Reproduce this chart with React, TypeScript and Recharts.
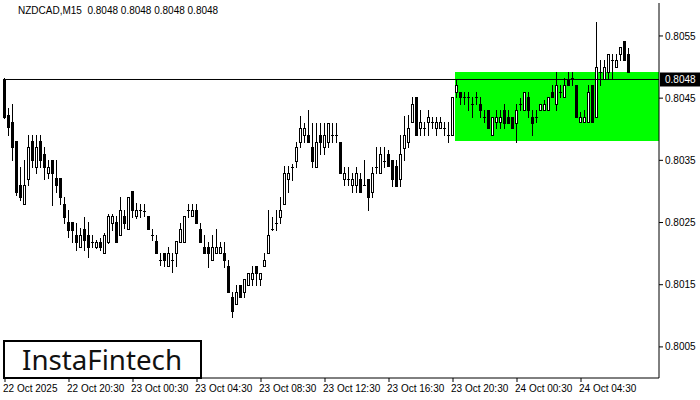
import React from 'react';
import {
  ComposedChart, Bar, XAxis, YAxis, ReferenceArea, ReferenceLine
} from 'recharts';

// NZDCAD M15, first bar 22 Oct 16:30
const opens = [
  0.80479, 0.80423, 0.80412, 0.80381, 0.80310, 0.80280, 0.80320, 0.80381, 0.80339, 0.80381,
  0.80360, 0.80330, 0.80351, 0.80322, 0.80322, 0.80280, 0.80251, 0.80251, 0.80230, 0.80211,
  0.80240, 0.80230, 0.80219, 0.80211, 0.80219, 0.80201, 0.80219, 0.80249, 0.80251, 0.80230,
  0.80261, 0.80240, 0.80301, 0.80261, 0.80270, 0.80269, 0.80261, 0.80230, 0.80220, 0.80190,
  0.80201, 0.80180, 0.80190, 0.80201, 0.80219, 0.80219, 0.80270, 0.80261, 0.80270, 0.80240,
  0.80211, 0.80211, 0.80190, 0.80201, 0.80201, 0.80201, 0.80180, 0.80130, 0.80119, 0.80150,
  0.80138, 0.80150, 0.80159, 0.80180, 0.80159, 0.80180, 0.80201, 0.80240, 0.80249, 0.80259,
  0.80280, 0.80320, 0.80339, 0.80349, 0.80380, 0.80391, 0.80391, 0.80372, 0.80339, 0.80391,
  0.80372, 0.80380, 0.80391, 0.80391, 0.80380, 0.80320, 0.80320, 0.80310, 0.80310, 0.80320,
  0.80310, 0.80320, 0.80299, 0.80339, 0.80330, 0.80349, 0.80360, 0.80351, 0.80341, 0.80320,
  0.80370, 0.80380, 0.80412, 0.80452, 0.80402, 0.80402, 0.80412, 0.80412, 0.80402, 0.80402,
  0.80402, 0.80391, 0.80391, 0.80460, 0.80460, 0.80452, 0.80452, 0.80441, 0.80452, 0.80441,
  0.80420, 0.80431, 0.80391, 0.80412, 0.80412, 0.80431, 0.80420, 0.80420, 0.80410, 0.80441,
  0.80431, 0.80452, 0.80420, 0.80420, 0.80431, 0.80431, 0.80431, 0.80460, 0.80441, 0.80460,
  0.80452, 0.80481, 0.80482, 0.80471, 0.80412, 0.80412, 0.80412, 0.80471, 0.80420, 0.80492,
  0.80481, 0.80492, 0.80511, 0.80500, 0.80521, 0.80542, 0.80521,
];

const highs = [
  0.80482, 0.80434, 0.80441, 0.80381, 0.80339, 0.80351, 0.80391, 0.80391, 0.80391, 0.80391,
  0.80372, 0.80351, 0.80351, 0.80351, 0.80322, 0.80291, 0.80270, 0.80251, 0.80249, 0.80241,
  0.80259, 0.80251, 0.80230, 0.80222, 0.80225, 0.80233, 0.80264, 0.80264, 0.80261, 0.80291,
  0.80270, 0.80291, 0.80301, 0.80282, 0.80280, 0.80280, 0.80261, 0.80240, 0.80230, 0.80201,
  0.80201, 0.80211, 0.80201, 0.80220, 0.80249, 0.80261, 0.80280, 0.80280, 0.80280, 0.80249,
  0.80230, 0.80219, 0.80230, 0.80240, 0.80219, 0.80219, 0.80190, 0.80138, 0.80150, 0.80150,
  0.80159, 0.80169, 0.80180, 0.80180, 0.80169, 0.80201, 0.80270, 0.80259, 0.80270, 0.80291,
  0.80341, 0.80341, 0.80344, 0.80380, 0.80421, 0.80410, 0.80431, 0.80410, 0.80410, 0.80410,
  0.80410, 0.80410, 0.80410, 0.80410, 0.80380, 0.80339, 0.80339, 0.80330, 0.80339, 0.80330,
  0.80351, 0.80320, 0.80339, 0.80372, 0.80372, 0.80372, 0.80367, 0.80351, 0.80351, 0.80391,
  0.80421, 0.80423, 0.80452, 0.80452, 0.80431, 0.80412, 0.80431, 0.80420, 0.80420, 0.80420,
  0.80412, 0.80412, 0.80452, 0.80481, 0.80460, 0.80460, 0.80460, 0.80452, 0.80460, 0.80452,
  0.80431, 0.80431, 0.80420, 0.80431, 0.80431, 0.80441, 0.80431, 0.80420, 0.80441, 0.80450,
  0.80460, 0.80460, 0.80431, 0.80431, 0.80441, 0.80447, 0.80452, 0.80471, 0.80492, 0.80471,
  0.80482, 0.80492, 0.80492, 0.80471, 0.80428, 0.80431, 0.80471, 0.80471, 0.80573, 0.80511,
  0.80511, 0.80521, 0.80521, 0.80521, 0.80532, 0.80542, 0.80531,
];

const lows = [
  0.80418, 0.80391, 0.80351, 0.80294, 0.80286, 0.80280, 0.80310, 0.80339, 0.80330, 0.80339,
  0.80320, 0.80322, 0.80278, 0.80299, 0.80280, 0.80249, 0.80227, 0.80219, 0.80206, 0.80211,
  0.80206, 0.80195, 0.80211, 0.80209, 0.80206, 0.80201, 0.80217, 0.80238, 0.80219, 0.80230,
  0.80241, 0.80240, 0.80259, 0.80257, 0.80259, 0.80261, 0.80240, 0.80222, 0.80201, 0.80182,
  0.80180, 0.80180, 0.80171, 0.80180, 0.80219, 0.80219, 0.80259, 0.80261, 0.80249, 0.80219,
  0.80201, 0.80179, 0.80190, 0.80201, 0.80201, 0.80179, 0.80138, 0.80098, 0.80119, 0.80130,
  0.80130, 0.80150, 0.80150, 0.80150, 0.80150, 0.80180, 0.80201, 0.80238, 0.80238, 0.80249,
  0.80280, 0.80299, 0.80319, 0.80339, 0.80372, 0.80380, 0.80380, 0.80339, 0.80339, 0.80360,
  0.80360, 0.80372, 0.80380, 0.80380, 0.80330, 0.80310, 0.80310, 0.80299, 0.80299, 0.80299,
  0.80310, 0.80270, 0.80291, 0.80330, 0.80330, 0.80339, 0.80341, 0.80309, 0.80309, 0.80309,
  0.80351, 0.80372, 0.80412, 0.80391, 0.80391, 0.80391, 0.80391, 0.80402, 0.80391, 0.80402,
  0.80391, 0.80380, 0.80391, 0.80452, 0.80441, 0.80441, 0.80431, 0.80420, 0.80441, 0.80420,
  0.80412, 0.80402, 0.80391, 0.80402, 0.80402, 0.80402, 0.80410, 0.80402, 0.80380, 0.80431,
  0.80431, 0.80420, 0.80391, 0.80412, 0.80431, 0.80431, 0.80431, 0.80452, 0.80431, 0.80452,
  0.80452, 0.80471, 0.80471, 0.80420, 0.80412, 0.80412, 0.80412, 0.80412, 0.80420, 0.80471,
  0.80481, 0.80481, 0.80481, 0.80500, 0.80511, 0.80511, 0.80492,
];

const closes = [
  0.80420, 0.80404, 0.80372, 0.80299, 0.80291, 0.80310, 0.80372, 0.80351, 0.80372, 0.80351,
  0.80339, 0.80339, 0.80330, 0.80310, 0.80291, 0.80259, 0.80238, 0.80238, 0.80219, 0.80230,
  0.80222, 0.80211, 0.80219, 0.80219, 0.80211, 0.80230, 0.80261, 0.80261, 0.80219, 0.80270,
  0.80249, 0.80291, 0.80270, 0.80270, 0.80270, 0.80269, 0.80240, 0.80230, 0.80201, 0.80190,
  0.80190, 0.80201, 0.80190, 0.80220, 0.80240, 0.80261, 0.80270, 0.80270, 0.80249, 0.80219,
  0.80201, 0.80201, 0.80211, 0.80211, 0.80211, 0.80190, 0.80138, 0.80108, 0.80138, 0.80130,
  0.80159, 0.80169, 0.80169, 0.80169, 0.80169, 0.80190, 0.80230, 0.80240, 0.80249, 0.80270,
  0.80330, 0.80330, 0.80339, 0.80372, 0.80402, 0.80402, 0.80380, 0.80349, 0.80380, 0.80380,
  0.80391, 0.80410, 0.80391, 0.80391, 0.80330, 0.80330, 0.80320, 0.80320, 0.80330, 0.80299,
  0.80310, 0.80291, 0.80330, 0.80339, 0.80360, 0.80349, 0.80341, 0.80320, 0.80309, 0.80360,
  0.80391, 0.80402, 0.80441, 0.80391, 0.80412, 0.80402, 0.80420, 0.80412, 0.80412, 0.80412,
  0.80402, 0.80391, 0.80452, 0.80471, 0.80452, 0.80452, 0.80452, 0.80441, 0.80452, 0.80431,
  0.80420, 0.80402, 0.80420, 0.80420, 0.80420, 0.80410, 0.80410, 0.80402, 0.80431, 0.80441,
  0.80460, 0.80431, 0.80410, 0.80420, 0.80441, 0.80441, 0.80452, 0.80452, 0.80471, 0.80460,
  0.80471, 0.80471, 0.80482, 0.80420, 0.80420, 0.80420, 0.80460, 0.80412, 0.80500, 0.80492,
  0.80500, 0.80521, 0.80511, 0.80511, 0.80532, 0.80511, 0.80492,
];

const SLOTS = 164; // bars + empty shift area on the right
const timeTickIdx = [0, 16, 32, 48, 64, 80, 96, 112, 128, 144];
const timeTickLabels = [
  '22 Oct 2025', '22 Oct 20:30', '23 Oct 00:30', '23 Oct 04:30', '23 Oct 08:30',
  '23 Oct 12:30', '23 Oct 16:30', '23 Oct 20:30', '24 Oct 00:30', '24 Oct 04:30',
];
const priceTicks = [0.8005, 0.8015, 0.8025, 0.8035, 0.8045, 0.8055];
const lastPrice = 0.8048;
const zoneStart = 113;
const zoneTop = 0.80492;
const zoneBottom = 0.80381;

const data = Array.from({ length: SLOTS }, (_, i) =>
  i < opens.length
    ? { idx: i, open: opens[i], high: highs[i], low: lows[i], close: closes[i], range: [lows[i], highs[i]] }
    : { idx: i }
);

const FONT = '"Liberation Sans", Arial, sans-serif';

const Candle = (props: any) => {
  const { x, y, width, height, payload } = props;
  if (!payload || payload.high == null) return null;
  const top = Math.min(y, y + height);
  const h = Math.abs(height);
  const { open, close, high, low } = payload;
  const span = high - low || 1e-9;
  const py = (v: number) => top + ((high - v) / span) * h;
  const cx = Math.floor(x + width / 2) - 0.5;
  const yo = Math.round(py(open));
  const yc = Math.round(py(close));
  const bTop = Math.min(yo, yc) + 0.5;
  const bBot = Math.max(yo, yc) + 0.5;
  const bull = close > open;
  return (
    <g>
      <line x1={cx} x2={cx} y1={Math.round(py(high))} y2={Math.round(py(low)) + 1} stroke="#000" strokeWidth={1} />
      {bBot - bTop < 1 ? (
        <line x1={cx - 1.5} x2={cx + 1.5} y1={bTop} y2={bTop} stroke="#000" strokeWidth={1} />
      ) : (
        <rect x={cx - 1} y={bTop} width={2} height={bBot - bTop} fill={bull ? '#fff' : '#000'} stroke="#000" strokeWidth={1} />
      )}
    </g>
  );
};

const TimeTick = (props: any) => {
  const { x, y, payload } = props;
  const k = timeTickIdx.indexOf(payload.value);
  return (
    <text x={x - 2} y={y} dy={8} textAnchor="start" fontSize={10} fontFamily={FONT} fill="#000">
      {k >= 0 ? timeTickLabels[k] : ''}
    </text>
  );
};

const PriceLabel = (props: any) => {
  const { viewBox } = props;
  const right = viewBox.x + viewBox.width;
  return (
    <g>
      <rect x={right + 1} y={viewBox.y - 7} width={40} height={14} fill="#000" />
      <text x={right + 6} y={viewBox.y} dy="0.355em" fontSize={10} fontFamily={FONT} fill="#fff">
        {lastPrice.toFixed(4)}
      </text>
    </g>
  );
};

export default function App() {
  return (
    <div style={{ position: 'absolute', left: 0, top: 0, width: 700, height: 400, background: '#fff' }}>
      <ComposedChart
        width={700}
        height={400}
        data={data}
        margin={{ top: 3, right: 0, bottom: 0, left: 3 }}
        barCategoryGap={0}
        barGap={0}
      >
        <XAxis
          dataKey="idx"
          type="category"
          ticks={timeTickIdx}
          interval={0}
          tick={<TimeTick />}
          tickSize={4}
          tickMargin={2}
          height={22}
          axisLine={{ stroke: '#000' }}
          tickLine={{ stroke: '#000' }}
        />
        <XAxis xAxisId="top" dataKey="idx" orientation="top" height={0} tick={false} tickLine={false} axisLine={{ stroke: '#000' }} />
        <YAxis
          orientation="right"
          domain={[0.8, 0.80603]}
          ticks={priceTicks}
          tickFormatter={(v: number) => v.toFixed(4)}
          width={41}
          tickSize={4}
          tickMargin={2}
          allowDataOverflow
          axisLine={{ stroke: '#000' }}
          tickLine={{ stroke: '#000' }}
          tick={{ fontSize: 10, fontFamily: FONT, fill: '#000' }}
        />
        <YAxis yAxisId="left" orientation="left" domain={[0.8, 0.80603]} width={0} tick={false} tickLine={false} axisLine={{ stroke: '#000' }} />
        <ReferenceArea x1={zoneStart} x2={SLOTS - 1} y1={zoneBottom} y2={zoneTop} fill="#00ff00" fillOpacity={1} stroke="none" />
        <ReferenceLine y={lastPrice} stroke="#000" strokeWidth={1} label={<PriceLabel />} />
        <Bar dataKey="range" shape={<Candle />} isAnimationActive={false} />
      </ComposedChart>

      <div style={{ position: 'absolute', left: 18, top: 5, fontSize: 10, lineHeight: '12px', fontFamily: FONT, color: '#000', whiteSpace: 'pre' }}>
        {'NZDCAD,M15  0.8048 0.8048 0.8048 0.8048'}
      </div>

      <svg width={204} height={42} style={{ position: 'absolute', left: 2, top: 338 }}>
        <rect x={2} y={3} width={197} height={37} fill="#fff" stroke="#000" strokeWidth={2} />
        <text x={20} y={32} fontSize={27} fontFamily='"Noto Sans", sans-serif' fill="#111" textLength={160} lengthAdjust="spacingAndGlyphs">
          InstaFintech
        </text>
      </svg>
    </div>
  );
}
